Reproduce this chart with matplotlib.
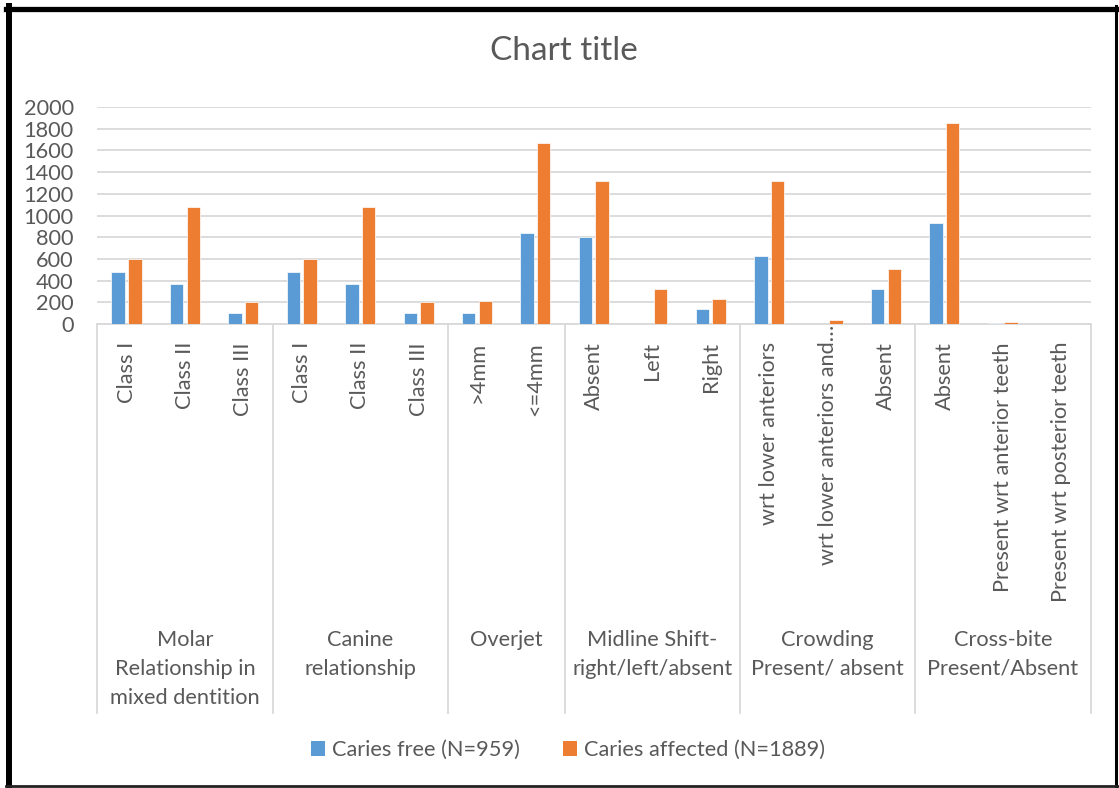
import numpy as np
import matplotlib
matplotlib.use('Agg')
import matplotlib.pyplot as plt
import matplotlib.transforms as transforms
from matplotlib.lines import Line2D
from matplotlib.patches import Patch

plt.rcParams['font.family'] = ['Lato', 'DejaVu Sans']

# Data
groups = ['Molar\nRelationship in\nmixed dentition', 'Canine\nrelationship', 'Overjet',
          'Midline Shift-\nright/left/absent', 'Crowding\nPresent/ absent', 'Cross-bite\nPresent/Absent']
group_sizes = [3, 3, 2, 3, 3, 3]
sub_labels = ['Class I', 'Class II', 'Class III',
              'Class I', 'Class II', 'Class III',
              '>4mm', '<=4mm',
              'Absent', 'Left', 'Right',
              'wrt lower anteriors', 'wrt lower anteriors and…', 'Absent',
              'Absent', 'Present wrt anterior teeth', 'Present wrt posterior teeth']
caries_free = [475, 368, 100, 475, 368, 100, 102, 842, 803, 0, 141, 625, 0, 320, 932, 9, 0]
caries_affected = [600, 1075, 200, 600, 1075, 200, 215, 1665, 1317, 320, 234, 1320, 40, 505, 1855, 18, 0]
series_names = ['Caries free (N=959)', 'Caries affected (N=1889)']
yticks = np.arange(0, 2001, 200)

W, H = 1119, 788
c_blue = '#5B9BD5'
c_orange = '#ED7D31'
c_text = '#595959'
c_grid = '#D9D9D9'
fs = 15.7

fig = plt.figure(figsize=(W / 100, H / 100), dpi=100)
fig.patch.set_facecolor('white')

# plot area in pixels
x0, x1 = 97.3, 1090.5
y_top, y_bot = 107, 324
ax = fig.add_axes([x0 / W, 1 - y_bot / H, (x1 - x0) / W, (y_bot - y_top) / H])

n = len(sub_labels)
x = np.arange(n)
bw = 0.23
off = 0.142
ax.bar(x - off, caries_free, width=bw, color=c_blue, edgecolor='white', linewidth=0.5, zorder=3)
ax.bar(x + off, caries_affected, width=bw, color=c_orange, edgecolor='white', linewidth=0.5, zorder=3)

ax.set_xlim(-0.5, n - 0.5)
ax.set_ylim(0, 2000)
ax.set_yticks(yticks)
ax.set_yticklabels([str(v) for v in yticks], fontsize=fs, color=c_text)
ax.tick_params(axis='y', length=0, pad=17)
ax.set_xticks([])
ax.grid(axis='y', color=c_grid, linewidth=1.3, zorder=0)
for s in ['top', 'right', 'left']:
    ax.spines[s].set_visible(False)
ax.spines['bottom'].set_color(c_grid)
ax.spines['bottom'].set_linewidth(1.3)

# multi-level category axis
trans = transforms.blended_transform_factory(ax.transData, fig.transFigure)
for i, lab in enumerate(sub_labels):
    ytop = 325 if lab.endswith('…') else 342
    ax.text(i, 1 - ytop / H, lab, transform=trans, rotation=90, ha='center', va='top',
            fontsize=fs, color=c_text)

bounds = np.concatenate([[0], np.cumsum(group_sizes)]) - 0.5
for b in bounds:
    ax.add_line(Line2D([b, b], [1 - y_bot / H, 1 - 713 / H], transform=trans,
                       color=c_grid, linewidth=1.3, clip_on=False))
for g, lo, hi in zip(groups, bounds[:-1], bounds[1:]):
    ax.text((lo + hi) / 2, 1 - 630 / H, g, transform=trans, ha='center', va='top',
            fontsize=fs, color=c_text, linespacing=1.55)

fig.text(564 / W, 1 - 51 / H, 'Chart title', ha='center', va='center', fontsize=24, color=c_text)

handles = [Patch(facecolor=c_blue), Patch(facecolor=c_orange)]
fig.legend(handles, series_names, loc='center', bbox_to_anchor=(568 / W, 1 - 750 / H), ncol=2,
           frameon=False, fontsize=fs, labelcolor=c_text, handlelength=0.65, handleheight=0.65,
           handletextpad=0.3, columnspacing=2.0)

# outer frame
fig.add_artist(Line2D([9 / W, 9 / W], [1 - 6 / H, 1 - 787 / H], color='black', linewidth=4.3))
fig.add_artist(Line2D([6 / W, 1118 / W], [1 - 8.5 / H, 1 - 8.5 / H], color='black', linewidth=3.8))
fig.add_artist(Line2D([1116 / W, 1116 / W], [1 - 6 / H, 1 - 787 / H], color='black', linewidth=2.2))
fig.add_artist(Line2D([6 / W, 1118 / W], [1 - 786 / H, 1 - 786 / H], color='#222222', linewidth=2.0))

fig.savefig('out.png', dpi=100)
